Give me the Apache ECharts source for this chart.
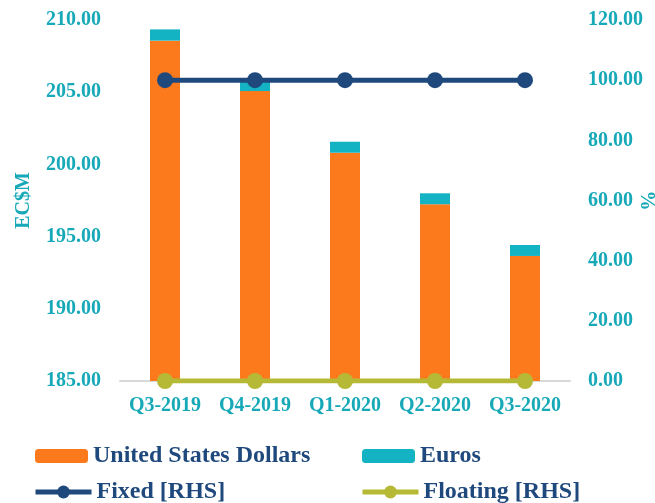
<!DOCTYPE html>
<html>
<head>
<meta charset="utf-8">
<script src="https://cdn.jsdelivr.net/npm/echarts@6/dist/echarts.min.js"></script>
<style>
  html, body { margin: 0; padding: 0; background: #fff; }
  #main { width: 655px; height: 503px; }
</style>
</head>
<body>
<div id="main"></div>
<script>
const quarters = ['Q3-2019', 'Q4-2019', 'Q1-2020', 'Q2-2020', 'Q3-2020'];
const usd = [208.57, 205.08, 200.81, 197.24, 193.66];
const euros = [0.78, 0.78, 0.76, 0.76, 0.76];
const fixedPct = [100, 100, 100, 100, 100];
const floatingPct = [0, 0, 0, 0, 0];

const teal = '#17a9b8';
const navy = '#1f497d';
const font = '"Liberation Serif", "Times New Roman", serif';

const myChart = echarts.init(document.querySelector('#main'));

const legendText = { color: navy, fontFamily: font, fontWeight: 'bold', fontSize: 24, lineHeight: 24 };
function legendAt(name, left, top, isLine) {
    const lg = {
        data: [name],
        left: left,
        top: top,
        itemWidth: isLine ? 56 : 53,
        itemHeight: isLine ? 16 : 14,
        itemGap: 5,
        padding: 0,
        textStyle: legendText,
        selectedMode: false
    };
    if (isLine) lg.lineStyle = { width: 5 };
    return lg;
}

const axisFont = { color: teal, fontFamily: font, fontWeight: 'bold', fontSize: 20 };

const option = {
    animation: false,
    legend: [
        legendAt('United States Dollars', 35, 444, false),
        legendAt('Euros', 362, 444, false),
        legendAt('Fixed [RHS]', 33, 480, true),
        legendAt('Floating [RHS]', 360, 480, true)
    ],
    grid: { left: 120, right: 85, top: 20, bottom: 122, outerBoundsMode: 'none' },
    xAxis: {
        type: 'category',
        data: quarters,
        axisLine: { lineStyle: { color: '#d9d9d9', width: 2 } },
        axisTick: { show: false },
        axisLabel: Object.assign({ margin: 15, interval: 0 }, axisFont)
    },
    yAxis: [
        {
            type: 'value',
            min: 185,
            max: 210,
            interval: 5,
            name: 'EC$M',
            nameLocation: 'middle',
            nameGap: 86,
            nameMoveOverlap: false,
            nameTextStyle: axisFont,
            splitLine: { show: false },
            axisLine: { show: false },
            axisTick: { show: false },
            axisLabel: Object.assign({ margin: 19, formatter: v => v.toFixed(2) }, axisFont)
        },
        {
            type: 'value',
            min: 0,
            max: 120,
            interval: 20,
            name: '%',
            nameLocation: 'middle',
            nameGap: 66,
            nameRotate: 270,
            nameMoveOverlap: false,
            nameTextStyle: axisFont,
            splitLine: { show: false },
            axisLine: { show: false },
            axisTick: { show: false },
            axisLabel: Object.assign({ margin: 18, formatter: v => v.toFixed(2) }, axisFont)
        }
    ],
    series: [
        {
            name: 'United States Dollars',
            type: 'bar',
            stack: 'ccy',
            barWidth: 30,
            data: usd,
            itemStyle: { color: '#fd7a1c' }
        },
        {
            name: 'Euros',
            type: 'bar',
            stack: 'ccy',
            barWidth: 30,
            data: euros,
            itemStyle: { color: '#13b3c4' }
        },
        {
            name: 'Fixed [RHS]',
            type: 'line',
            yAxisIndex: 1,
            data: fixedPct,
            symbol: 'circle',
            symbolSize: 16,
            lineStyle: { color: navy, width: 5 },
            itemStyle: { color: navy }
        },
        {
            name: 'Floating [RHS]',
            type: 'line',
            yAxisIndex: 1,
            data: floatingPct,
            symbol: 'circle',
            symbolSize: 16,
            lineStyle: { color: '#b5b935', width: 5 },
            itemStyle: { color: '#b5b935' }
        }
    ]
};
myChart.setOption(option);
</script>
</body>
</html>
